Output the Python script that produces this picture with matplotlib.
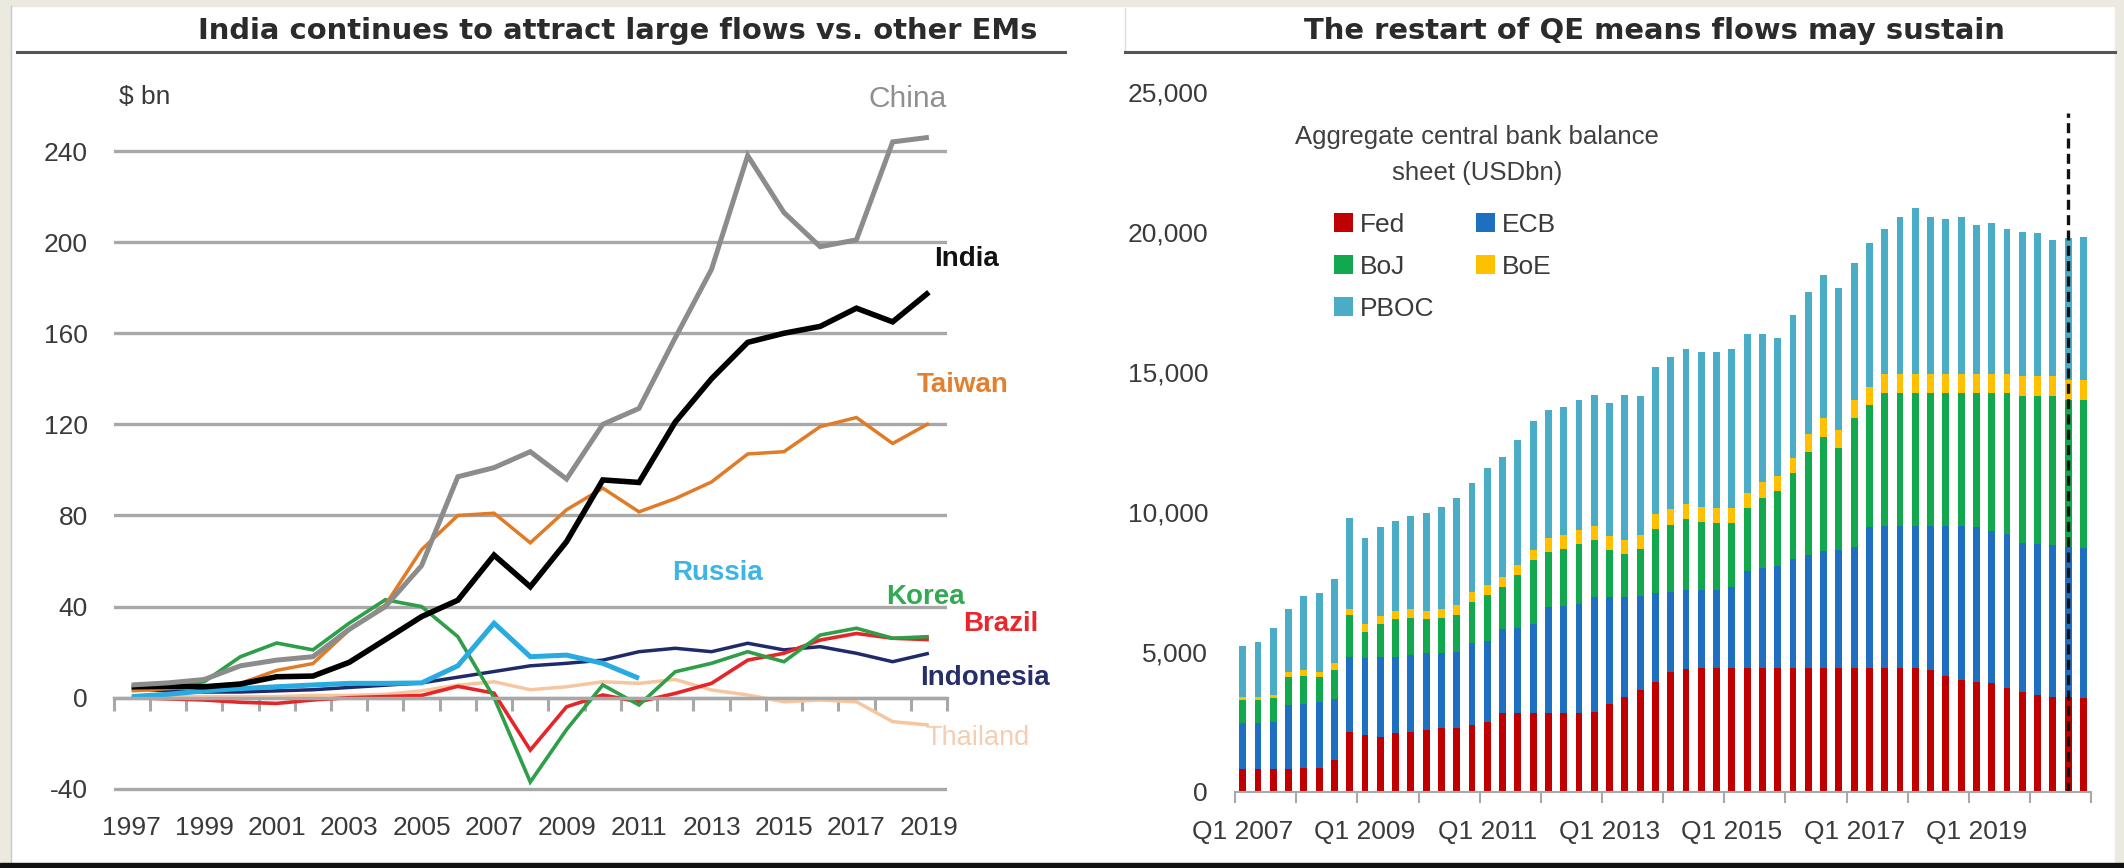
import numpy as np
import matplotlib
matplotlib.use("Agg")
import matplotlib.pyplot as plt
from matplotlib import font_manager as fm
from matplotlib.patches import Patch, Rectangle
from matplotlib.lines import Line2D

# ---------------- data: left panel ----------------
years = list(range(1997, 2020))
china = [5.6, 6.5, 8, 14, 16.5, 18, 30, 40, 58, 97, 101, 108, 96, 120, 127, 158, 188, 238, 213, 198, 201, 244, 246]
india = [4.8, 5, 4.8, 6, 9.2, 9.5, 15.5, 25.5, 35.6, 42.8, 62.6, 48.7, 68.5, 95.6, 94.5, 121, 140, 156, 160, 163, 171, 165, 178]
taiwan = [3, 4, 5, 6.3, 12, 15, 29.7, 40.7, 65, 80, 81, 68, 82.5, 92, 81.6, 87.4, 94.7, 107, 108, 119, 123, 111.6, 120.4]
korea = [4, 5, 7, 18, 24, 21, 32.7, 43, 40, 26.8, 0, -37, -14, 5.6, -3.2, 11.4, 15.1, 20.2, 15.8, 27.5, 30.5, 26.1, 26.8]
brazil = [0, -0.5, -1, -2, -2.5, -1, 0, 0.5, 1, 5, 2, -23, -4, 1.2, -1.8, 1.9, 6.3, 16.5, 19.5, 25.3, 28.2, 26.1, 25.5]
russia_years = list(range(1997, 2012))
russia = [0.5, 1.5, 3, 4, 4.8, 5.6, 6.3, 6.3, 6.5, 14, 32.7, 18, 18.7, 15.1, 8.5]
indonesia = [4, 3, 2.5, 2.5, 3, 3.5, 4.5, 5.5, 6.5, 9, 11.5, 14, 15.1, 16.5, 20.2, 21.7, 20.2, 23.9, 21, 22.4, 19.5, 15.8, 19.5]
thailand = [0, 0.5, 0.5, 0.5, 0.5, 1, 1, 1.5, 3, 5.5, 7, 3.5, 4.8, 7, 6.3, 8, 3.4, 1.2, -1.8, -1, -1.8, -10.5, -12]
left_yticks = [-40, 0, 40, 80, 120, 160, 200, 240]
left_ylabels = ["-40", "0", "40", "80", "120", "160", "200", "240"]
left_xlabels = [1997, 1999, 2001, 2003, 2005, 2007, 2009, 2011, 2013, 2015, 2017, 2019]

# ---------------- data: right panel (USD bn) ----------------
quarters = [f"Q{q} {y}" for y in range(2007, 2021) for q in range(1, 5)]
fed = [820, 820, 820, 820, 830, 840, 1130,
       2140, 2020, 1960, 2080, 2140, 2220, 2260, 2260, 2380, 2500,
       2800, 2800, 2800, 2800, 2800, 2800,
       2860, 3150, 3390, 3630, 3930, 4290, 4400,
       4420, 4420, 4420, 4420, 4420, 4420, 4420, 4420, 4420, 4420, 4420, 4420, 4420, 4420, 4420,
       4330, 4150, 3990, 3930, 3870, 3690, 3570, 3450, 3400, 3380, 3330]
ecb = [1620, 1630, 1680, 2280, 2320, 2360, 2170,
       2680, 2740, 2840, 2740, 2760, 2720, 2680, 2740, 2920, 2900,
       3000, 3050, 3200, 3800, 3850, 3900,
       4090, 3800, 3560, 3370, 3170, 2860, 2800,
       2780, 2780, 2880, 3480, 3580, 3630, 3880, 4030, 4180, 4230, 4330, 5030, 5080, 5080, 5080,
       5170, 5350, 5510, 5520, 5430, 5510, 5330, 5400, 5400, 5370, 5370]
boj = [830, 830, 830, 1000, 1000, 900, 1050,
       1480, 940, 1180, 1340, 1320, 1220, 1250, 1310, 1490, 1630,
       1520, 1890, 2280, 1960, 2030, 2160,
       2030, 1670, 1550, 1680, 2270, 2380, 2530,
       2430, 2400, 2300, 2220, 2500, 2690, 3070, 3670, 4080, 3630, 4590, 4370, 4730, 4730, 4730,
       4730, 4730, 4730, 4780, 4930, 5030, 5250, 5300, 5350, 5250, 5300]
boe = [120, 120, 120, 180, 180, 190, 240,
       240, 300, 300, 300, 300, 300, 350, 350, 350, 350,
       350, 350, 350, 500, 500, 500,
       500, 500, 500, 500, 550, 550, 550,
       550, 550, 550, 550, 550, 550, 550, 650, 650, 650, 650, 650, 700, 700, 700,
       700, 700, 700, 700, 700, 700, 700, 700, 700, 700, 700]
pboc = [1830, 1960, 2380, 2260, 2670, 2810, 3020,
        3240, 3050, 3180, 3200, 3330, 3500, 3640, 3840, 3870, 4170,
        4280, 4460, 4620, 4590, 4570, 4630,
        4690, 4750, 5170, 4940, 5260, 5430, 5530,
        5530, 5560, 5660, 5660, 5280, 4900, 5100, 5090, 5120, 5050, 4900, 5130, 5150, 5600, 5900,
        5600, 5510, 5600, 5310, 5390, 5150, 5150, 5090, 4850, 5060, 5100]
bank_names = ["Fed", "ECB", "BoJ", "BoE", "PBOC"]
right_yticks = [0, 5000, 10000, 15000, 20000, 25000]
forecast_start = "Q3 2020"

# ---------------- fonts ----------------
names = {f.name for f in fm.fontManager.ttflist}
if "Liberation Sans Narrow" in names:
    NARROW, TICK_FS, LEG_FS = "Liberation Sans Narrow", 21, 21.5
else:
    NARROW, TICK_FS, LEG_FS = "Liberation Sans", 19, 19
SANS = "Liberation Sans"

W, H = 2124, 868
fig = plt.figure(figsize=(W / 100, H / 100), dpi=100)
fig.patch.set_facecolor("white")

def fx(px):
    return px / W

def fy(py):
    return 1 - py / H

# frame
beige = "#ECE9E1"
fig.patches.append(Rectangle((0, fy(6)), 1, 6 / H, color=beige, transform=fig.transFigure, zorder=0))
fig.patches.append(Rectangle((0, 0), fx(10), 1, color=beige, transform=fig.transFigure, zorder=0))
fig.patches.append(Rectangle((fx(2115), 0), 1 - fx(2115), 1, color=beige, transform=fig.transFigure, zorder=0))
fig.patches.append(Rectangle((0, 0), 1, 5 / H, color="#111111", transform=fig.transFigure, zorder=5))
fig.lines.append(Line2D([fx(11), fx(11)], [fy(6), fy(863)], color="#C8C8C8", lw=1, transform=fig.transFigure))
fig.lines.append(Line2D([fx(1125), fx(1125)], [fy(8), fy(52)], color="#DDDDDD", lw=1, transform=fig.transFigure))

# titles
title_col = "#2B2B2B"
fig.text(fx(618), fy(31), "India continues to attract large flows vs. other EMs", ha="center", va="center",
         fontsize=20.9, weight="bold", family="DejaVu Sans", color=title_col)
fig.text(fx(1654), fy(31), "The restart of QE means flows may sustain", ha="center", va="center",
         fontsize=20.9, weight="bold", family="DejaVu Sans", color=title_col)
fig.lines.append(Line2D([fx(17), fx(1065)], [fy(52), fy(52)], color="#555555", lw=2.2, transform=fig.transFigure))
fig.lines.append(Line2D([fx(1125), fx(2115)], [fy(52), fy(52)], color="#555555", lw=2.2, transform=fig.transFigure))

tick_col = "#3A3A3A"
grid_col = "#A8A8A8"

# ---------------- left panel ----------------
ax1 = fig.add_axes([fx(113.6), fy(811.6), (947 - 113.6) / W, (811.6 - 59.9) / H])
ax1.set_xlim(1996.5, 2019.5)
ax1.set_ylim(-50, 280)
for s in ["left", "right", "top"]:
    ax1.spines[s].set_visible(False)
ax1.spines["bottom"].set_position(("data", 0))
ax1.spines["bottom"].set_color(grid_col)
ax1.spines["bottom"].set_linewidth(2.4)
ax1.set_yticks(left_yticks)
ax1.set_yticklabels(left_ylabels, family=NARROW, fontsize=TICK_FS, color=tick_col)
ax1.tick_params(axis="y", length=0, pad=18.4)
ax1.yaxis.grid(True, color=grid_col, lw=2.4)
ax1.set_axisbelow(True)
ax1.set_xticks(np.arange(1996.5, 2020, 1.0))
ax1.tick_params(axis="x", length=9, width=2.2, color=grid_col, labelbottom=False, direction="out")
sec = ax1.secondary_xaxis("bottom")
sec.set_xticks(left_xlabels)
sec.set_xticklabels([str(y) for y in left_xlabels], family=NARROW, fontsize=TICK_FS, color=tick_col)
sec.tick_params(length=0, pad=3.5)
sec.spines["bottom"].set_visible(False)

series = [
    (years, thailand, "#F6C6A0", 2.5),
    (years, indonesia, "#1F2A6A", 2.5),
    (years, brazil, "#E52528", 2.6),
    (years, korea, "#2E9E48", 2.6),
    (russia_years, russia, "#29AAE1", 3.6),
    (years, taiwan, "#E07B28", 2.5),
    (years, india, "#000000", 4.0),
    (years, china, "#8C8C8C", 3.6),
]
for xs, ys, c, lw in series:
    ax1.plot(xs, ys, color=c, lw=lw, solid_joinstyle="miter", solid_capstyle="butt")

labels_left = [
    ("China", 908, 99, "#8F8F8F", "normal", 21.5),
    ("India", 967, 259, "#111111", "bold", 20),
    ("Taiwan", 963, 385, "#E2802F", "bold", 20),
    ("Russia", 717, 573, "#3DB4E6", "bold", 20),
    ("Korea", 925, 597, "#34A853", "bold", 20),
    ("Brazil", 1001, 624, "#E8262B", "bold", 20),
    ("Indonesia", 985, 678, "#262F6C", "bold", 20),
    ("Thailand", 978, 738, "#F5CDB0", "normal", 19.5),
]
for t, x, y, c, w, s in labels_left:
    fig.text(fx(x), fy(y), t, ha="center", va="center", color=c, weight=w, fontsize=s, family=SANS)
fig.text(fx(145), fy(97), "$ bn", ha="center", va="center", fontsize=TICK_FS, family=NARROW, color=tick_col)

# ---------------- right panel ----------------
ax2 = fig.add_axes([fx(1235.1), fy(791.7), 856 / W, 700 / H])
x = np.arange(len(quarters))
cols = ["#C00000", "#1F6FC0", "#12A84E", "#FFC000", "#4BACC6"]
bottom = np.zeros(len(quarters))
for vals, c, nm in zip([fed, ecb, boj, boe, pboc], cols, bank_names):
    v = np.array(vals, dtype=float)
    ax2.bar(x, v, width=0.45, bottom=bottom, color=c, linewidth=0, label=nm)
    bottom += v
ax2.set_xlim(-0.5, len(quarters) - 0.5)
ax2.set_ylim(0, 25000)
for s in ["left", "right", "top"]:
    ax2.spines[s].set_visible(False)
ax2.spines["bottom"].set_color(grid_col)
ax2.spines["bottom"].set_linewidth(1.5)
ax2.set_yticks(right_yticks)
ax2.set_yticklabels([f"{v:,}" for v in right_yticks], family=NARROW, fontsize=TICK_FS, color=tick_col)
ax2.tick_params(axis="y", length=0, pad=19.5)
lab_idx = list(range(0, len(quarters), 8))
ax2.set_xticks(lab_idx)
ax2.set_xticklabels([quarters[i] for i in lab_idx], family=NARROW, fontsize=TICK_FS, color=tick_col)
ax2.tick_params(axis="x", which="major", length=0, pad=20.5)
ax2.set_xticks(np.arange(-0.5, len(quarters), 4), minor=True)
ax2.tick_params(axis="x", which="minor", length=8, width=1.5, color=grid_col, direction="out")
fi = quarters.index(forecast_start)
ax2.axvline(fi, ymin=0, ymax=0.97, color="#111111", lw=2.4, ls=(0, (3, 1.6)))

order = [0, 2, 4, 1, 3]
handles = [Patch(facecolor=cols[i], edgecolor="none") for i in order]
leg = ax2.legend(handles, [bank_names[i] for i in order], ncol=2, loc="upper left",
                 bbox_to_anchor=(fx(1334), fy(213)), bbox_transform=fig.transFigure,
                 frameon=False, prop={"family": NARROW, "size": LEG_FS},
                 handlelength=0.72, handleheight=0.72, handletextpad=0.25,
                 columnspacing=1.6, labelspacing=0.68, borderpad=0, borderaxespad=0)
for t in leg.get_texts():
    t.set_color("#3A3A3A")
fig.text(fx(1477), fy(137), "Aggregate central bank balance", ha="center", va="center",
         fontsize=18.5, family=SANS, color="#404040")
fig.text(fx(1477), fy(173), "sheet (USDbn)", ha="center", va="center",
         fontsize=18.5, family=SANS, color="#404040")

fig.savefig("out.png", dpi=100, facecolor=fig.get_facecolor())
